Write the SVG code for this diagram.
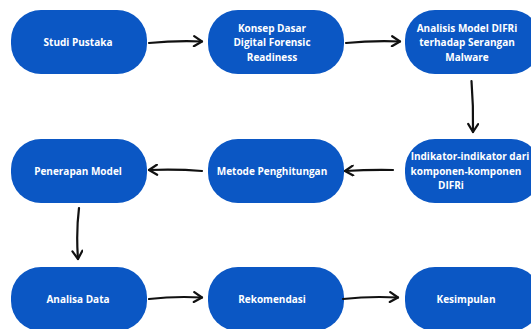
<svg xmlns="http://www.w3.org/2000/svg" width="531" height="329" viewBox="0 0 531 329">
<defs>
<style>
.box{fill:#0B57C4;}
.t{font-family:"Open Sans","Liberation Sans",sans-serif;font-weight:700;font-size:10px;fill:#ffffff;text-anchor:middle;}
.c{fill:none;stroke:#111111;stroke-width:2.2;stroke-linecap:round;stroke-linejoin:round;}
</style>
<marker id="ah" viewBox="0 0 12 12" refX="10" refY="6" markerWidth="12" markerHeight="12" markerUnits="userSpaceOnUse" orient="auto">
<path d="M2,1 L10,6 L2,11" fill="none" stroke="#111111" stroke-width="2.2" stroke-linecap="round" stroke-linejoin="round"/>
</marker>
</defs>
<rect width="531" height="329" fill="#ffffff"/>
<g id="n1"><rect class="box" x="11" y="10" width="136" height="64" rx="30"/><text class="t" x="78" y="45.5">Studi Pustaka</text></g>
<g id="n2"><rect class="box" x="208" y="10" width="136" height="64" rx="30"/><text class="t" x="272" y="31.5">Konsep Dasar</text><text class="t" x="272" y="46">Digital Forensic</text><text class="t" x="272" y="60.5">Readiness</text></g>
<g id="n3"><rect class="box" x="405" y="10" width="136" height="64" rx="30"/><text class="t" x="467" y="31.5">Analisis Model DIFRi</text><text class="t" x="467" y="46">terhadap Serangan</text><text class="t" x="467" y="60.5">Malware</text></g>
<g id="n4"><rect class="box" x="405" y="139" width="136" height="64" rx="30"/><text class="t" x="470" y="160">Indikator-indikator dari</text><text class="t" x="466" y="174.5">komponen-komponen</text><text class="t" x="451" y="189">DIFRi</text></g>
<g id="n5"><rect class="box" x="208" y="139" width="136" height="64" rx="30"/><text class="t" x="272" y="174.5">Metode Penghitungan</text></g>
<g id="n6"><rect class="box" x="11" y="139" width="136" height="64" rx="30"/><text class="t" x="78" y="174.5">Penerapan Model</text></g>
<g id="n7"><rect class="box" x="11" y="267" width="136" height="64" rx="30"/><text class="t" x="78" y="302.5">Analisa Data</text></g>
<g id="n8"><rect class="box" x="208" y="267" width="136" height="64" rx="30"/><text class="t" x="272" y="302.5">Rekomendasi</text></g>
<g id="n9"><rect class="box" x="405" y="267" width="136" height="64" rx="30"/><text class="t" x="466" y="302.5">Kesimpulan</text></g>
<g id="connectors">
<path class="c" marker-end="url(#ah)" d="M149,43 Q175,40.5 202,41.5"/>
<path class="c" marker-end="url(#ah)" d="M346,43 Q372,40.5 400,41.5"/>
<path class="c" marker-end="url(#ah)" d="M471.5,81 Q473.5,106 473,132"/>
<path class="c" marker-end="url(#ah)" d="M393,170 Q370,169.5 345,171"/>
<path class="c" marker-end="url(#ah)" d="M202,171 Q178,169 149,170"/>
<path class="c" marker-end="url(#ah)" d="M79,208 Q76,232 78,259"/>
<path class="c" marker-end="url(#ah)" d="M149,299 Q175,296 202,297.5"/>
<path class="c" marker-end="url(#ah)" d="M343,299 Q370,296 398,297.5"/>
</g>
</svg>
